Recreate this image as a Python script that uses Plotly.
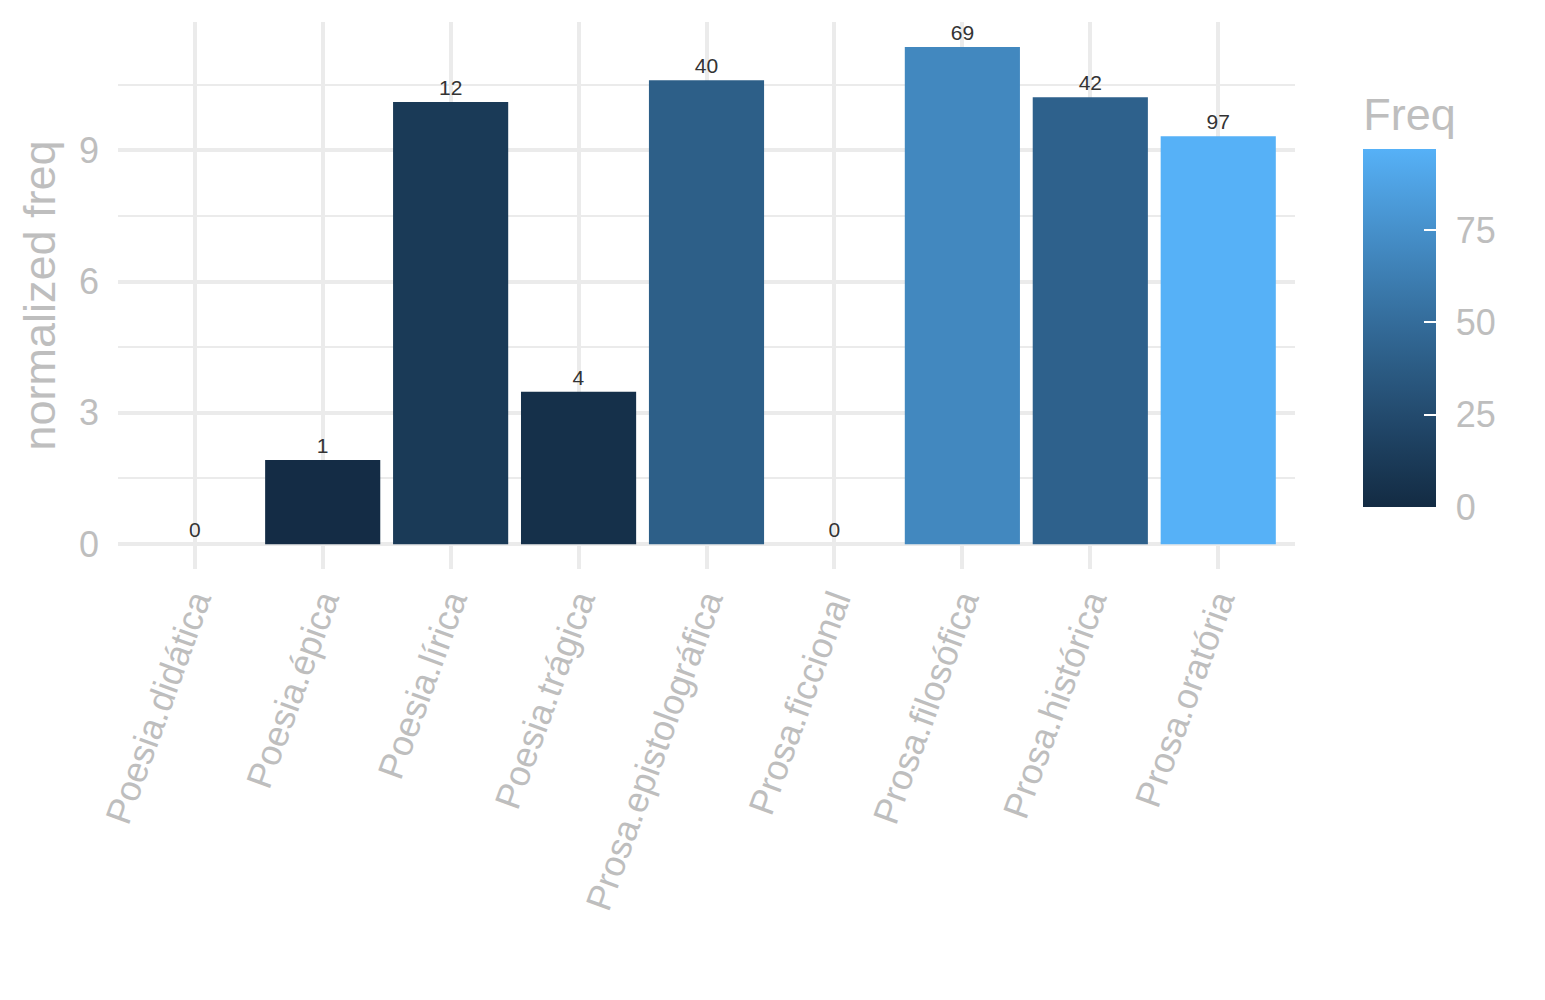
import plotly.graph_objects as go

# values
genres = ["Poesia.didática", "Poesia.épica", "Poesia.lírica", "Poesia.trágica",
          "Prosa.epistolográfica", "Prosa.ficcional", "Prosa.filosófica",
          "Prosa.histórica", "Prosa.oratória"]
norm_freq = [0, 1.92, 10.10, 3.48, 10.60, 0, 11.36, 10.21, 9.32]
freq = [0, 1, 12, 4, 40, 0, 69, 42, 97]
cbar_ticks = [0, 25, 50, 75]

GREY = "#BEBEBE"
GRID = "#EBEBEB"
FONT = "Liberation Sans"


# ggplot's default continuous scale interpolates in Lab, so build the stops that way
def hex_to_lab(h):
    rgb = [int(h[i:i + 2], 16) / 255 for i in (1, 3, 5)]
    lin = [c / 12.92 if c <= 0.04045 else ((c + 0.055) / 1.055) ** 2.4 for c in rgb]
    x = (0.4124 * lin[0] + 0.3576 * lin[1] + 0.1805 * lin[2]) / 0.95047
    y = 0.2126 * lin[0] + 0.7152 * lin[1] + 0.0722 * lin[2]
    z = (0.0193 * lin[0] + 0.1192 * lin[1] + 0.9505 * lin[2]) / 1.08883
    f = lambda t: t ** (1 / 3) if t > 0.008856 else 7.787 * t + 16 / 116
    fx, fy, fz = f(x), f(y), f(z)
    return 116 * fy - 16, 500 * (fx - fy), 200 * (fy - fz)


def lab_to_hex(L, a, b):
    fy = (L + 16) / 116
    fx = fy + a / 500
    fz = fy - b / 200
    g = lambda t: t ** 3 if t ** 3 > 0.008856 else (t - 16 / 116) / 7.787
    x, y, z = g(fx) * 0.95047, g(fy), g(fz) * 1.08883
    lin = [3.2406 * x - 1.5372 * y - 0.4986 * z,
           -0.9689 * x + 1.8758 * y + 0.0415 * z,
           0.0557 * x - 0.2040 * y + 1.0570 * z]
    out = []
    for c in lin:
        c = max(0.0, min(1.0, c))
        c = 12.92 * c if c <= 0.0031308 else 1.055 * c ** (1 / 2.4) - 0.055
        out.append(round(c * 255))
    return "#%02x%02x%02x" % tuple(out)


low, high = hex_to_lab("#132B43"), hex_to_lab("#56B1F7")
n = 10
colorscale = []
for i in range(n + 1):
    t = i / n
    colorscale.append([t, lab_to_hex(*[l + (h - l) * t for l, h in zip(low, high)])])

# shared colorbar placement
cbar_pos = dict(x=1.058, xanchor="left", y=0.1133, yanchor="bottom", xpad=0, ypad=0,
                thickness=73, len=414, lenmode="pixels", outlinewidth=0, tickvals=cbar_ticks)

fig = go.Figure()
fig.add_trace(go.Bar(
    x=genres, y=norm_freq, width=0.9,
    text=freq, textposition="outside", cliponaxis=False,
    outsidetextfont=dict(family=FONT, size=21, color="#333333"),
    marker=dict(color=freq, colorscale=colorscale, cmin=0, cmax=max(freq), line_width=0,
                colorbar=dict(
                    title=dict(text="Freq", side="top", font=dict(family=FONT, size=45, color=GREY)),
                    ticks="outside", ticklen=13, tickcolor="white",
                    tickfont=dict(family=FONT, size=36, color=GREY),
                    **cbar_pos,
                )),
    showlegend=False, hoverinfo="x+y",
))
# second copy of the colorbar, only to draw the white tick marks over the gradient
fig.add_trace(go.Scatter(
    x=genres, y=norm_freq, mode="markers",
    marker=dict(color=freq, colorscale=colorscale, cmin=0, cmax=max(freq), size=1, opacity=0,
                colorbar=dict(
                    title=dict(text="Freq", side="top", font=dict(family=FONT, size=45, color="rgba(0,0,0,0)")),
                    ticks="inside", ticklen=12, tickwidth=2, tickcolor="white",
                    showticklabels=False,
                    **cbar_pos,
                )),
    showlegend=False, hoverinfo="skip",
))

# the page body adds 8px on the left and top, so margins are shifted by that
fig.update_layout(
    width=1545, height=1000,
    margin=dict(l=110, r=258, t=14, b=439),
    plot_bgcolor="white", paper_bgcolor="white",
    font=dict(family=FONT, color=GREY),
    bargap=0.1,
)
fig.update_xaxes(
    range=[-0.6, 8.6], tickangle=-70,
    tickfont=dict(family=FONT, size=36, color=GREY),
    showgrid=True, gridcolor=GRID, gridwidth=3.5,
    ticks="", ticklabelstandoff=3, zeroline=False, showline=False,
)
fig.update_yaxes(
    range=[-0.568, 11.93], tick0=0, dtick=3,
    tickfont=dict(family=FONT, size=36, color=GREY),
    title=dict(text="normalized freq", font=dict(family=FONT, size=45, color=GREY), standoff=9),
    showgrid=True, gridcolor=GRID, gridwidth=3.5,
    minor=dict(dtick=1.5, tick0=0, showgrid=True, gridcolor=GRID, gridwidth=2),
    ticks="", ticklabelstandoff=18, zeroline=False, showline=False,
)

fig.write_html("out.html")
